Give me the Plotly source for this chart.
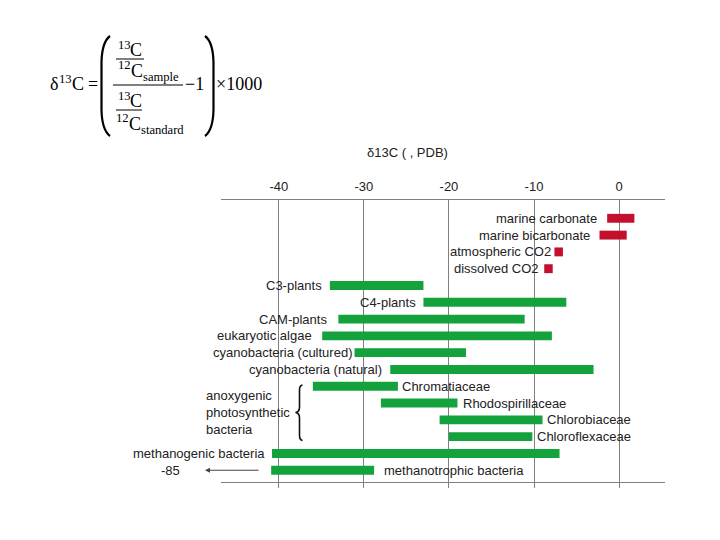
import plotly.graph_objects as go

# ---------------- data ----------------
categories = ["marine carbonate", "marine bicarbonate", "atmospheric CO2", "dissolved CO2",
              "C3-plants", "C4-plants", "CAM-plants", "eukaryotic algae",
              "cyanobacteria (cultured)", "cyanobacteria (natural)",
              "Chromatiaceae", "Rhodospirillaceae", "Chlorobiaceae", "Chloroflexaceae",
              "methanogenic bacteria", "methanotrophic bacteria"]
range_low = [-1.4, -2.3, -7.6, -8.8, -34.0, -23.0, -33.0, -34.9, -31.1, -26.9,
             -36.0, -28.0, -21.1, -20.0, -40.8, -40.9]
range_high = [1.8, 0.9, -6.6, -7.8, -23.0, -6.2, -11.1, -7.9, -18.0, -3.0,
              -26.0, -19.0, -9.0, -10.2, -7.0, -28.8]
group = ["inorganic"] * 4 + ["organic"] * 12
tick_values = [-40, -30, -20, -10, 0]
tick_labels = ["-40", "-30", "-20", "-10", "0"]
axis_title = "δ13C ( , PDB)"
group_label = "anoxygenic<br>photosynthetic<br>bacteria"
off_scale_label = "-85"

# ---------------- styling / layout ----------------
label_side = ["left"] * 10 + ["right"] * 4 + ["left", "right"]
label_gap = [10, 10, 3, 5, 8, 7, 11, 10, 3, 8, 4, 6, 4, 5, 7, 10]
colors = {"inorganic": "#C3102D", "organic": "#13A23B"}
SANS = "Liberation Sans, Arial, sans-serif"
SERIF = "Liberation Serif, Times New Roman, serif"
TXT = "#222222"
GRID = "#808080"

OFF = 8  # page offset of the figure inside the browser window
W, H = 720, 540
ML, MT = 221 - OFF, 200 - OFF
MR, MB = W - (665 - OFF), H - (482 - OFF)
PW, PH = W - ML - MR, H - MT - MB


def PX(x):
    return (x - OFF - ML) / PW


def PY(y):
    return (H - MB - (y - OFF)) / PH


fig = go.Figure()
for g in ["inorganic", "organic"]:
    idx = [i for i, gg in enumerate(group) if gg == g]
    fig.add_trace(go.Bar(
        y=idx,
        x=[range_high[i] - range_low[i] for i in idx],
        base=[range_low[i] for i in idx],
        orientation="h",
        width=0.53,
        marker=dict(color=colors[g], line=dict(width=0)),
        hoverinfo="skip",
        showlegend=False,
    ))

# invisible trace for the bottom axis
fig.add_trace(go.Scatter(x=[tick_values[0]], y=[0], xaxis="x2", mode="markers",
                         marker=dict(opacity=0), showlegend=False, hoverinfo="skip"))

annotations = []
for i, name in enumerate(categories):
    if label_side[i] == "left":
        annotations.append(dict(x=range_low[i], y=i, xref="x", yref="y", text=name,
                                showarrow=False, xanchor="right", yanchor="middle",
                                xshift=-(label_gap[i] - 2),
                                font=dict(family=SANS, size=13, color=TXT)))
    else:
        annotations.append(dict(x=range_high[i], y=i, xref="x", yref="y", text=name,
                                showarrow=False, xanchor="left", yanchor="middle",
                                xshift=(label_gap[i] - 2),
                                font=dict(family=SANS, size=13, color=TXT)))

# axis title
annotations.append(dict(x=PX(407.5), y=PY(153), xref="paper", yref="paper", text=axis_title,
                        showarrow=False, xanchor="center", yanchor="middle",
                        font=dict(family=SANS, size=13, color=TXT)))
# group label
annotations.append(dict(x=PX(204), y=PY(412), xref="paper", yref="paper", text=group_label,
                        showarrow=False, xanchor="left", yanchor="middle", align="left",
                        font=dict(family=SANS, size=13, color=TXT)))
# -85 and arrow
annotations.append(dict(x=PX(158.5), y=15, xref="paper", yref="y", text=off_scale_label,
                        showarrow=False, xanchor="left", yanchor="middle",
                        font=dict(family=SANS, size=13, color=TXT)))
annotations.append(dict(x=PX(205), y=15, xref="paper", yref="y", text=" ",
                        showarrow=True, ax=57, ay=0, arrowhead=2, arrowsize=1,
                        arrowwidth=1, arrowcolor="#444444",
                        font=dict(family=SANS, size=13, color=TXT)))

# formula (each piece its own text, positioned by glyph centre)
FS = 18
SS = 12.6


def ftext(x, y, t, size=FS, anchor="left"):
    annotations.append(dict(x=PX(x), y=PY(y), xref="paper", yref="paper", text=t,
                            showarrow=False, xanchor=anchor, yanchor="middle",
                            borderpad=0, borderwidth=0,
                            font=dict(family=SERIF, size=size, color="#000000")))


# left-hand side
ftext(50, 84.4, "δ")
ftext(59, 78.7, "13", SS)
ftext(71.6, 84.4, "C")
ftext(87.5, 84.0, "=")
# numerator
ftext(117.7, 44.7, "13", SS)
ftext(130.3, 50.4, "C")
ftext(118, 65.4, "12", SS)
ftext(130.6, 71.1, "C")
ftext(142.6, 76.7, "sample", SS)
# denominator
ftext(117.7, 95.7, "13", SS)
ftext(130.3, 101.4, "C")
ftext(116, 118.4, "12", SS)
ftext(128.6, 124.1, "C")
ftext(140.6, 129.7, "standard", SS)
# rest
ftext(185, 83.5, "−1")
ftext(216, 83.5, "×1000")

shapes = []


def hline(x0, x1, y, w=1):
    shapes.append(dict(type="line", xref="paper", yref="paper",
                       x0=PX(x0), x1=PX(x1), y0=PY(y), y1=PY(y),
                       line=dict(color="#000000", width=w)))


hline(116, 144, 59)
hline(113, 183, 85)
hline(116, 142, 110)


def pathstr(cmds):
    out = []
    for c in cmds:
        if isinstance(c, str):
            out.append(c)
        else:
            out.append(f"{PX(c[0]):.5f},{PY(c[1]):.5f}")
    return " ".join(out)


# parentheses
shapes.append(dict(type="path", xref="paper", yref="paper",
                   path=pathstr(["M", (110, 36), "Q", (102, 42), (101.5, 62),
                                 "L", (101.5, 110), "Q", (102, 130), (110, 136)]),
                   line=dict(color="#000000", width=2.2)))
shapes.append(dict(type="path", xref="paper", yref="paper",
                   path=pathstr(["M", (205, 36), "Q", (213, 42), (213.5, 62),
                                 "L", (213.5, 110), "Q", (213, 130), (205, 136)]),
                   line=dict(color="#000000", width=2.2)))
# brace
shapes.append(dict(type="path", xref="paper", yref="paper",
                   path=pathstr(["M", (302.5, 385), "Q", (299.5, 385.5), (299.5, 390),
                                 "L", (299.5, 407), "Q", (299.5, 412), (295.5, 412.5),
                                 "Q", (299.5, 413), (299.5, 418),
                                 "L", (299.5, 435), "Q", (299.5, 440), (302.5, 440.5)]),
                   line=dict(color="#111111", width=1.6)))

fig.update_layout(
    width=W, height=H,
    margin=dict(l=ML, r=MR, t=MT, b=MB, pad=0),
    paper_bgcolor="white", plot_bgcolor="white",
    barmode="overlay",
    showlegend=False,
    xaxis=dict(range=[-46.8, 5.4], side="top", tickvals=tick_values, ticktext=tick_labels,
               showgrid=True, gridcolor=GRID, gridwidth=1, zeroline=False,
               showline=True, linecolor=GRID, linewidth=1, ticks="",
               ticklabelstandoff=3,
               tickfont=dict(family=SANS, size=13, color=TXT), fixedrange=True),
    xaxis2=dict(range=[-46.8, 5.4], matches="x", overlaying="x", side="bottom",
                tickvals=tick_values, showticklabels=False, showgrid=False,
                zeroline=False, showline=True, linecolor=GRID, linewidth=1,
                ticks="outside", ticklen=5, tickcolor=GRID, tickwidth=1),
    yaxis=dict(range=[15.70, -1.09], showgrid=False, zeroline=False, showline=False,
               showticklabels=False, ticks="", fixedrange=True),
    annotations=annotations,
    shapes=shapes,
)

fig.write_html("out.html")
